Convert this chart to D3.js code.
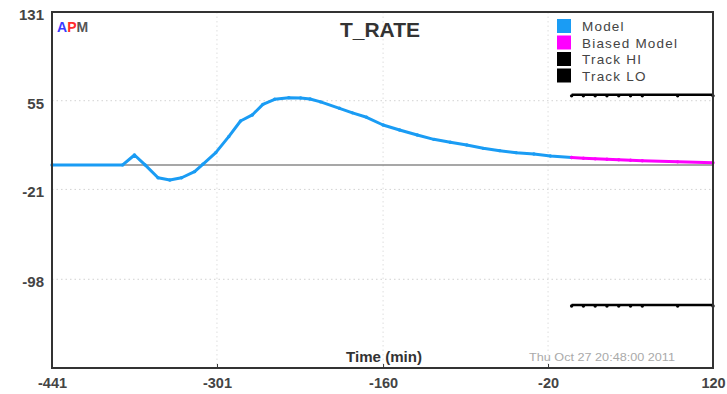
<!DOCTYPE html>
<html>
<head>
<meta charset="utf-8">
<script src="https://cdn.jsdelivr.net/npm/d3@7"></script>
<style>
  body { margin: 0; background: #fff; }
  svg { display: block; font-family: "Liberation Sans", Arial, sans-serif; }
</style>
</head>
<body>
<div class="chart"></div>
<script>
// DATA ------------------------------
let modelTime  = [-441, -381, -371, -362, -351, -341, -331, -320, -313, -302, -291, -281, -271, -262, -252, -240, -230, -222, -213, -197, -186, -174, -160, -146, -131, -117, -103, -89, -75, -61, -47, -32, -18, 0];
let modelValue = [0, 0, 8.5, 0, -11, -12.9, -11, -5.8, 0.5, 10.5, 24.2, 37.6, 42.8, 51.9, 56.2, 57.6, 57.3, 56.5, 54, 48.5, 44.6, 40.8, 34.2, 29.9, 25.6, 21.9, 19.4, 17, 14.2, 12.2, 10.5, 9.3, 7.6, 6.3];
let biasedTime  = [0, 10, 20, 30, 40, 50, 60, 90, 120];
let biasedValue = [6.3, 5.7, 5.2, 4.8, 4.4, 4.0, 3.6, 2.6, 1.9];
let trackTime = [0, 10, 20, 30, 40, 50, 60, 90, 120];
let trackHi = [60, 60, 60, 60, 60, 60, 60, 60, 60];
let trackLo = [-120, -120, -120, -120, -120, -120, -120, -120, -120];
let xTicks = [-441, -301, -160, -20, 120];
let yTicks = [131, 55, -21, -98];
let yMin = -174;
let legendNames = ["Model", "Biased Model", "Track HI", "Track LO"];
let legendColors = ["#1a9cf4", "#ff00ff", "#000", "#000"];

// CHART INIT ------------------------------
let margin = { top: 12, right: 14, bottom: 26, left: 52 },
  width = 727 - margin.left - margin.right,
  height = 394 - margin.top - margin.bottom;

let svg = d3.select(".chart").append("svg")
  .attr("width", 727).attr("height", 394)
  .append("g")
  .attr("transform", "translate(" + margin.left + "," + margin.top + ")");

let x = d3.scaleLinear().domain([-441, 120]).range([0, width]);
let y = d3.scaleLinear().domain([yMin, 131]).range([height, 0]);

// grid (dotted)
svg.selectAll(".hgrid").data(yTicks.slice(1)).enter().append("line")
  .attr("x1", 0).attr("x2", width)
  .attr("y1", d => y(d)).attr("y2", d => y(d))
  .attr("stroke", "#d2d2d2").attr("stroke-width", 1).attr("stroke-dasharray", "1.5,3");
svg.selectAll(".vgrid").data(xTicks.slice(1, -1)).enter().append("line")
  .attr("y1", 0).attr("y2", height)
  .attr("x1", d => x(d)).attr("x2", d => x(d))
  .attr("stroke", "#dedede").attr("stroke-width", 1).attr("stroke-dasharray", "1.5,3");

// zero line
svg.append("line")
  .attr("x1", 0).attr("x2", width)
  .attr("y1", y(0)).attr("y2", y(0))
  .attr("stroke", "#8a8a8a").attr("stroke-width", 1.5);

// axes (plain hyphen for negatives)
let fmt = d => String(d);
let xAxis = d3.axisBottom(x).tickValues(xTicks).tickSize(-4).tickPadding(10).tickFormat(fmt);
let xg = svg.append("g").attr("transform", "translate(0," + height + ")").call(xAxis);
xg.select(".domain").remove();
xg.selectAll("line").attr("stroke", "#333");
xg.selectAll("text").attr("font-size", 14.5).attr("font-weight", "bold").attr("fill", "#444")
  .attr("font-family", "Liberation Sans, Arial, sans-serif");

let yAxis = d3.axisLeft(y).tickValues(yTicks).tickSize(0).tickPadding(8).tickFormat(fmt);
let yg = svg.append("g").call(yAxis);
yg.select(".domain").remove();
yg.selectAll("text").attr("font-size", 15).attr("font-weight", "bold").attr("fill", "#444").attr("dy", "0.5em")
  .attr("font-family", "Liberation Sans, Arial, sans-serif");

// lines
let line = d3.line().x(d => x(d[0])).y(d => y(d[1]));
function drawSeries(times, vals, color, w) {
  let pts = times.map((t, i) => [t, vals[i]]);
  svg.append("path").datum(pts)
    .attr("d", line).attr("fill", "none")
    .attr("stroke", color).attr("stroke-width", w).attr("stroke-linejoin", "round");
  svg.selectAll(null).data(pts).enter().append("circle")
    .attr("cx", d => x(d[0])).attr("cy", d => y(d[1]) + (color == "#000" ? 1 : 0))
    .attr("r", 1.7).attr("fill", color);
}
drawSeries(modelTime, modelValue, legendColors[0], 3);
drawSeries(biasedTime, biasedValue, legendColors[1], 3);
drawSeries(trackTime, trackHi, "#000", 2.5);
drawSeries(trackTime, trackLo, "#000", 2.5);

// frame
svg.append("rect").attr("width", width).attr("height", height)
  .attr("fill", "none").attr("stroke", "#333").attr("stroke-width", 2);

// title, labels
svg.append("text").attr("x", 328).attr("y", 25).attr("text-anchor", "middle")
  .attr("font-size", 21).attr("font-weight", "bold").attr("fill", "#333").text("T_RATE");

let apm = svg.append("text").attr("x", 5).attr("y", 20).attr("font-size", 14).attr("font-weight", "bold");
apm.append("tspan").attr("fill", "#3a3aff").text("A");
apm.append("tspan").attr("fill", "#ff2a2a").text("P");
apm.append("tspan").attr("fill", "#555").text("M");

svg.append("text").attr("x", 332).attr("y", height - 6).attr("text-anchor", "middle")
  .attr("font-size", 14).attr("font-weight", "bold").attr("fill", "#333")
  .attr("textLength", 76).attr("lengthAdjust", "spacingAndGlyphs").text("Time (min)");

svg.append("text").attr("x", 550).attr("y", height - 7).attr("text-anchor", "middle")
  .attr("font-size", 11).attr("fill", "#aaa")
  .attr("textLength", 146).attr("lengthAdjust", "spacingAndGlyphs").text("Thu Oct 27 20:48:00 2011");

// legend
let lg = svg.selectAll(".legend").data(legendNames).enter().append("g")
  .attr("transform", (d, i) => "translate(" + (557 - margin.left) + "," + (19 - margin.top + i * 16.5) + ")");
lg.append("rect").attr("width", 14).attr("height", 14).attr("fill", (d, i) => legendColors[i]);
lg.append("text").attr("x", 25).attr("y", 12).attr("font-size", 13.5).attr("letter-spacing", 1.2)
  .attr("fill", "#444").text(d => d);
</script>
</body>
</html>
